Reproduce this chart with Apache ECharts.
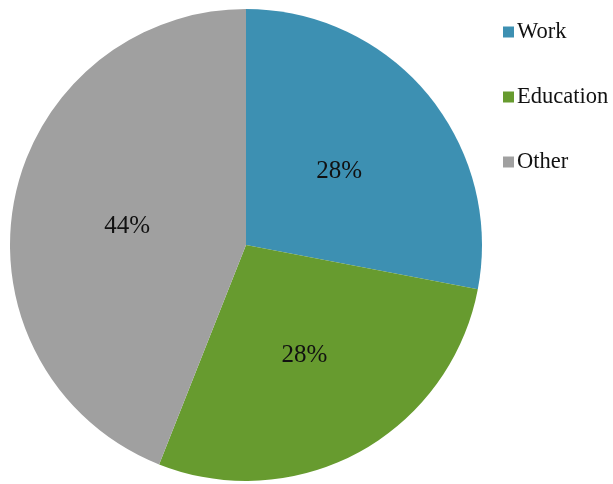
<!DOCTYPE html>
<html>
<head>
<meta charset="utf-8">
<script src="https://cdn.jsdelivr.net/npm/echarts@6/dist/echarts.min.js"></script>
<style>
  html, body { margin: 0; padding: 0; background: #ffffff; }
  #chart { width: 613px; height: 484px; }
</style>
</head>
<body>
<div id="chart"></div>
<script>
// Share of trips by purpose
var categories = ['Work', 'Education', 'Other'];
var shares = [28, 28, 44];
var colors = ['#3d90b2', '#679b2f', '#a0a0a0'];

var serif = '"Liberation Serif", "Times New Roman", "DejaVu Serif", serif';

var chart = echarts.init(document.getElementById('chart'), null, { renderer: 'canvas' });

chart.setOption({
  animation: false,
  backgroundColor: '#ffffff',
  color: colors,
  legend: {
    orient: 'vertical',
    left: 498,
    top: 15,
    itemWidth: 11,
    itemHeight: 11,
    itemGap: 41,
    icon: 'rect',
    selectedMode: false,
    textStyle: {
      fontFamily: serif,
      fontSize: 22.5,
      lineHeight: 24,
      color: '#111111',
      padding: [0, 0, 0, -2]
    },
    data: categories
  },
  series: [{
    type: 'pie',
    center: [246, 245],
    radius: [0, 236],
    startAngle: 90,
    clockwise: true,
    silent: true,
    itemStyle: { borderWidth: 0 },
    label: {
      show: true,
      position: 'inside',
      offset: [0, 4],
      formatter: function (p) { return p.value + '%'; },
      fontFamily: serif,
      fontSize: 25,
      color: '#111111'
    },
    labelLine: { show: false },
    data: categories.map(function (name, i) {
      return { name: name, value: shares[i] };
    })
  }]
});
</script>
</body>
</html>
